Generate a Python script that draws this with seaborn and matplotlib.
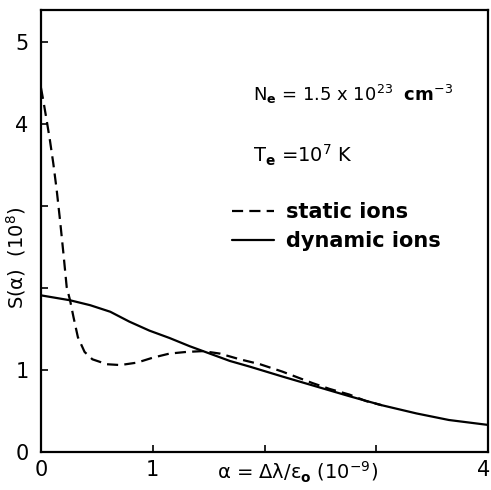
import numpy as np
import pandas as pd
import matplotlib
matplotlib.use("Agg")
import matplotlib.pyplot as plt
import matplotlib.transforms as mtransforms
import seaborn as sns
from matplotlib.lines import Line2D

# ---- data ----
dyn_x = [0.0, 0.26, 0.44, 0.62, 0.79, 0.97, 1.15, 1.33, 1.51, 1.69, 1.87,
         2.16, 2.46, 2.76, 3.05, 3.36, 3.65, 4.0]
dyn_y = [1.91, 1.85, 1.79, 1.71, 1.59, 1.48, 1.39, 1.29, 1.20, 1.11, 1.04,
         0.92, 0.80, 0.68, 0.57, 0.47, 0.39, 0.33]

sta_x = [0.0, 0.02, 0.05, 0.08, 0.11, 0.14, 0.17, 0.20, 0.23, 0.26, 0.29, 0.33,
         0.39, 0.46, 0.59, 0.71, 0.86, 1.00, 1.15, 1.30, 1.45, 1.60, 1.78, 1.96,
         2.16, 2.43, 2.58, 2.76, 2.91, 3.05]
sta_y = [4.44, 4.29, 4.05, 3.80, 3.52, 3.20, 2.83, 2.43, 2.01, 1.85, 1.65, 1.40,
         1.22, 1.13, 1.07, 1.06, 1.09, 1.15, 1.20, 1.22, 1.23, 1.20, 1.13, 1.07,
         0.98, 0.84, 0.77, 0.70, 0.62, 0.57]

series_names = ["static ions", "dynamic ions"]
x_ticks = [0, 1, 2, 3, 4]
x_ticklabels = ["0", "1", "", "", "4"]
y_ticks = [0, 1, 2, 3, 4, 5]
y_ticklabels = ["0", "1", "", "", "4", "5"]

df = pd.concat([
    pd.DataFrame({"alpha": sta_x, "S": sta_y, "model": series_names[0]}),
    pd.DataFrame({"alpha": dyn_x, "S": dyn_y, "model": series_names[1]}),
])

sns.set_theme(style="ticks")
plt.rcParams["font.family"] = ["DejaVu Sans"]
plt.rcParams["mathtext.fontset"] = "dejavusans"
plt.rcParams["mathtext.default"] = "regular"
for k in ["text.color", "axes.labelcolor", "xtick.color", "ytick.color", "axes.edgecolor"]:
    plt.rcParams[k] = "black"

fig = plt.figure(figsize=(4.91, 4.90), dpi=100)
ax = fig.add_axes([0.0835, 0.0776, 0.9104, 0.902])

sns.lineplot(data=df, x="alpha", y="S", hue="model", style="model",
             palette={series_names[0]: "black", series_names[1]: "black"},
             dashes={series_names[0]: (5, 2.8), series_names[1]: ""},
             linewidth=1.6, sort=False, estimator=None, legend=False, ax=ax)

ax.set_xlim(0, 4)
ax.set_ylim(0, 5.39)
ax.set_xticks(x_ticks)
ax.set_xticklabels(x_ticklabels)
ax.set_yticks(y_ticks)
ax.set_yticklabels(y_ticklabels)
ax.tick_params(direction="in", length=5, width=1.2, labelsize=15)
ax.tick_params(axis="y", pad=9)
ax.tick_params(axis="x", pad=6)
for s in ax.spines.values():
    s.set_linewidth(1.6)

# nudge the last x tick label slightly left so it stays inside the figure
last = ax.get_xticklabels()[-1]
last.set_transform(last.get_transform() +
                   mtransforms.ScaledTranslation(-4 / 100, 0, fig.dpi_scale_trans))

ax.set_xlabel(r"$\alpha$ = $\Delta\lambda$/$\epsilon_\mathbf{o}$ (10$^{-9}$)", fontsize=14)
ax.xaxis.set_label_coords(0.575, -0.018)
ax.set_ylabel(r"S($\alpha$)  (10$^8$)", fontsize=14)
ax.yaxis.set_label_coords(-0.03, 0.44)

ax.text(1.9, 4.36, r"N$_\mathbf{e}$ = 1.5 x 10$^{23}$  $\mathbf{cm}^{-3}$", fontsize=13,
        ha="left", va="center")
ax.text(1.9, 3.62, r"T$_\mathbf{e}$ =10$^7$ K", fontsize=14, ha="left", va="center")

handles = [Line2D([], [], color="black", lw=1.6, dashes=(5, 2.8)),
           Line2D([], [], color="black", lw=1.6)]
ax.legend(handles, series_names, frameon=False, loc="center left",
          bbox_to_anchor=(0.385, 0.51), handlelength=2.0, handletextpad=0.6,
          labelspacing=0.45, prop={"weight": "bold", "size": 15})

fig.savefig("out.png", dpi=100)
